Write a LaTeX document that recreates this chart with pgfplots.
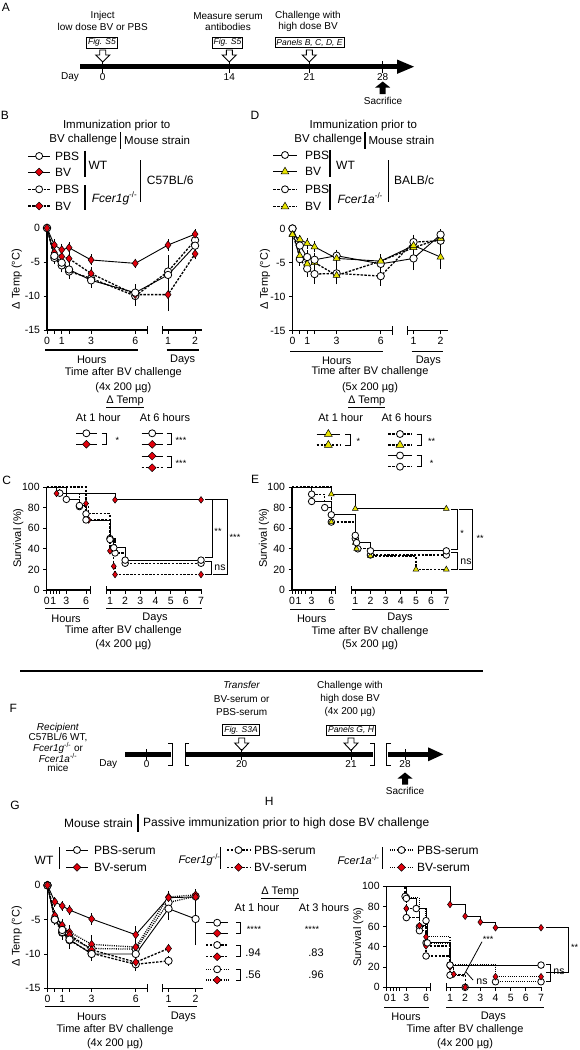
\documentclass[border=0pt]{standalone}
\usepackage{fontspec}
\setmainfont{Liberation Sans}
\usepackage{pgfplots}
\pgfplotsset{compat=1.18}
\usetikzlibrary{shapes.geometric}
\definecolor{bvred}{RGB}{226,0,12}
\definecolor{bvyel}{RGB}{232,228,0}
\newcommand{\fs}[1]{\fontsize{#1}{#1}\selectfont}

\pgfplotsset{
 base/.style={scale only axis, clip=false, separate axis lines,
  axis x line*=bottom, axis y line*=left,
  x axis line style={draw=none},
  y axis line style={line width=1.1pt},
  tick align=outside, major tick length=3.5pt,
  tick style={black, line width=0.9pt},
  ticklabel style={font=\fs{10.5}},
  /pgf/number format/assume math mode=true,
 },
 temp/.style={base, width=155pt, height=102pt,
  xmin=0, xmax=10.54, ymin=-15, ymax=0,
  x filter/.expression={x>12 ? 8.23+(x/24-1)*1.84 : x},
  xtick={0,0.5,1,1.5,3,6,8.23,10.07}, xticklabels={0,,1,,3,6,1,2},
  ytick={-15,-10,-5,0},
 },
 surv/.style={base, width=155pt, height=103pt,
  xmin=0, xmax=23.66, ymin=0, ymax=100,
  x filter/.expression={x>12 ? 9.66+(x/24-1)*2.316 : x},
  xtick={0,0.5,1,1.5,2,3,6,9.66,11.976,14.292,16.608,18.924,21.24,23.556},
  xticklabels={0,,1,,,3,6,1,2,3,4,5,6,7},
  ytick={0,20,40,60,80,100},
 },
 eb/.style={error bars/y dir=both, error bars/y explicit,
  error bars/error bar style={solid, line width=0.8pt, black},
  error bars/error mark options={mark size=2.8pt, line width=0.8pt, black, solid}},
 sw/.style={black, solid, line width=0.9pt, mark=*, mark size=3.7pt, mark options={solid, fill=white, draw=black, line width=0.8pt}},
 sr/.style={black, solid, line width=0.9pt, mark=diamond*, mark size=4pt, mark options={solid, fill=bvred, draw=black, line width=0.5pt}},
 sy/.style={black, solid, line width=0.9pt, mark=triangle*, mark size=4pt, mark options={solid, fill=bvyel, draw=black, line width=0.5pt}},
 dw/.style={sw, dash pattern=on 2.4pt off 1.4pt, line width=1.3pt},
 dr/.style={sr, dash pattern=on 2.4pt off 1.4pt, line width=1.3pt},
 dy/.style={sy, dash pattern=on 2.4pt off 1.4pt, line width=1.3pt},
 ow/.style={sw, dash pattern=on 1pt off 1.2pt, line width=1.3pt},
 or/.style={sr, dash pattern=on 1pt off 1.2pt, line width=1.3pt},
 km/.style={const plot, mark repeat=1, mark phase=2, mark size=3.3pt},
}

\tikzset{
 mw/.style={circle, draw=black, fill=white, line width=0.8pt, minimum size=7pt, inner sep=0pt},
 mr/.style={diamond, draw=black, fill=bvred, line width=0.5pt, minimum size=8pt, inner sep=0pt},
 my/.style={regular polygon, regular polygon sides=3, draw=black, fill=bvyel, line width=0.5pt, minimum size=9pt, inner sep=0pt},
 ls/.style={line width=0.9pt},
 ld/.style={line width=1.3pt, dash pattern=on 2.4pt off 1.4pt},
 lo/.style={line width=1.3pt, dash pattern=on 1pt off 1.2pt},
 bx/.style={draw, line width=0.8pt, inner xsep=1.5pt, inner ysep=1.5pt, font=\fs{8.5}\itshape},
}
\newcommand{\legsym}[5]{\draw[#4] (#1,#3) -- (#2,#3); \node[#5] at ({(#1+#2)/2},#3) {};}
\newcommand{\oarrow}[3]{\draw[line width=0.9pt, fill=white] (#1-3,#2) -- (#1+3,#2) -- (#1+3,#2+5) -- (#1+7,#2+5) -- (#1,#3) -- (#1-7,#2+5) -- (#1-3,#2+5) -- cycle;}
\newcommand{\sarrow}[3]{\fill (#1-3,#3) -- (#1+3,#3) -- (#1+3,#2+6) -- (#1+7.5,#2+6) -- (#1,#2) -- (#1-7.5,#2+6) -- (#1-3,#2+6) -- cycle;}
\newcommand{\brk}[4]{\draw[line width=0.9pt] (#1,#3) -- (#2,#3) -- (#2,#4) -- (#1,#4);}
\newcommand{\tempaxislines}{%
 \draw[line width=1.1pt] (axis cs:0,-15) -- (axis cs:6.8,-15);
 \draw[line width=1.1pt] (axis cs:7.82,-15) -- (axis cs:10.54,-15);
 \draw[line width=0.9pt] (axis cs:6.8,-15.6) -- (axis cs:6.8,-14.4);
 \draw[line width=0.9pt] (axis cs:7.82,-15.6) -- (axis cs:7.82,-14.4);}
\newcommand{\survaxislines}{%
 \draw[line width=1.1pt] (axis cs:0,0) -- (axis cs:6.61,0);
 \draw[line width=1.1pt] (axis cs:9.05,0) -- (axis cs:23.66,0);
 \draw[line width=0.9pt] (axis cs:6.61,-4) -- (axis cs:6.61,4);
 \draw[line width=0.9pt] (axis cs:9.05,-4) -- (axis cs:9.05,4);}

\begin{document}
\begin{tikzpicture}
\useasboundingbox (0,0) rectangle (580pt,-1050pt);

% ================= B =================
\begin{axis}[temp, at={(47pt,-330pt)}, anchor=south west]
\addplot[dw, eb] coordinates {(0,0) +- (0,0) (0.5,-4.4) +- (0,0.5) (1,-5.5) +- (0,0.6) (1.5,-6.4) +- (0,0.7) (3,-7.4) +- (0,0.8) (6,-10.0) +- (0,1.0) (24,-6.4) +- (0,1.0) (48,-1.8) +- (0,0.5)};
\addplot[dr, eb] coordinates {(0,0) +- (0,0) (0.5,-3.6) +- (0,0.4) (1,-4.2) +- (0,0.5) (1.5,-4.5) +- (0,0.5) (3,-6.7) +- (0,0.5) (6,-9.8) +- (0,0.8) (24,-9.8) +- (0,2.0) (48,-3.8) +- (0,0.4)};
\addplot[sw, eb] coordinates {(0,0) +- (0,0) (0.5,-4.1) +- (0,0.4) (1,-5.1) +- (0,0.6) (1.5,-6.1) +- (0,0.7) (3,-7.7) +- (0,0.7) (6,-9.5) +- (0,0.8) (24,-6.9) +- (0,2.5) (48,-2.6) +- (0,0.6)};
\addplot[sr, eb] coordinates {(0,0) +- (0,0) (0.5,-2.5) +- (0,0.4) (1,-3.2) +- (0,0.5) (1.5,-2.9) +- (0,0.4) (3,-4.7) +- (0,0.4) (6,-5.2) +- (0,0.3) (24,-2.5) +- (0,0.4) (48,-0.9) +- (0,0.3)};
\tempaxislines
\end{axis}

% ================= D =================
\begin{axis}[temp, at={(292.5pt,-330.5pt)}, anchor=south west]
\addplot[dw, eb] coordinates {(0,0) +- (0,0) (0.5,-4.5) +- (0,0.6) (1,-5.9) +- (0,0.8) (1.5,-6.7) +- (0,1.0) (3,-6.6) +- (0,0.9) (6,-7.0) +- (0,1.0) (24,-2.0) +- (0,0.7) (48,-1.8) +- (0,0.5)};
\addplot[dy, eb] coordinates {(0,-0.8) +- (0,0.2) (0.5,-4.0) +- (0,0.6) (1,-5.2) +- (0,0.7) (1.5,-5.0) +- (0,0.6) (3,-6.9) +- (0,0.9) (6,-4.8) +- (0,0.6) (24,-2.8) +- (0,0.6) (48,-1.5) +- (0,0.4)};
\addplot[sw, eb] coordinates {(0,0) +- (0,0) (0.5,-2.5) +- (0,0.5) (1,-4.2) +- (0,0.6) (1.5,-4.6) +- (0,0.6) (3,-4.0) +- (0,0.5) (6,-5.2) +- (0,0.6) (24,-4.4) +- (0,1.3) (48,-0.9) +- (0,0.4)};
\addplot[sy, eb] coordinates {(0,-0.9) +- (0,0.2) (0.5,-1.6) +- (0,0.3) (1,-2.2) +- (0,0.4) (1.5,-2.7) +- (0,0.4) (3,-4.4) +- (0,0.5) (6,-4.8) +- (0,0.5) (24,-2.5) +- (0,0.8) (48,-4.2) +- (0,1.3)};
\tempaxislines
\end{axis}

% ================= C =================
\begin{axis}[surv, at={(46.7pt,-590pt)}, anchor=south west]
\addplot[dw, km] coordinates {(0,100) (2,94) (5,81) (6,74) (24,50) (32,36) (48,26) (168,26)};
\addplot[dr, km] coordinates {(0,100) (6,84) (6.4,68) (24,38) (30,23) (32,15) (168,15)};
\addplot[sw, km] coordinates {(0,100) (3,88) (5,82) (6,68) (24,49) (30,41) (48,29) (168,29)};
\addplot[sr, km] coordinates {(0,100) (1.5,93.75) (32,87.5) (168,87.5)};
\survaxislines
\end{axis}

% ================= E =================
\begin{axis}[surv, at={(292pt,-590pt)}, anchor=south west]
\addplot[dw, km] coordinates {(0,100) (3,93) (5,80) (6,66) (24,50) (28,40) (48,34) (168,34)};
\addplot[dy, km] coordinates {(0,100) (6,66) (24,46) (26,40) (48,33) (120,20) (168,20)};
\addplot[sw, km] coordinates {(0,100) (3,86) (6,73) (24,53) (26,46) (48,38) (168,38)};
\addplot[sy, km] coordinates {(0,100) (6,93) (24,79) (168,79)};
\survaxislines
\end{axis}

% ================= G =================
\begin{axis}[temp, height=103pt, at={(47.5pt,-988.3pt)}, anchor=south west]
\addplot[ow, eb] coordinates {(0,0) +- (0,0) (0.5,-5.0) +- (0,0.4) (1,-6.9) +- (0,0.6) (1.5,-7.6) +- (0,0.7) (3,-9.2) +- (0,1.0) (6,-9.3) +- (0,0.8) (24,-2.5) +- (0,0.6) (48,-1.6) +- (0,0.4)};
\addplot[or, eb] coordinates {(0,0) +- (0,0) (0.5,-4.6) +- (0,0.4) (1,-5.9) +- (0,0.5) (1.5,-6.8) +- (0,0.6) (3,-8.6) +- (0,0.9) (6,-9.0) +- (0,0.8) (24,-1.7) +- (0,0.5) (48,-1.4) +- (0,0.4)};
\addplot[dw, eb] coordinates {(0,0) +- (0,0) (0.5,-4.9) +- (0,0.4) (1,-6.8) +- (0,0.6) (1.5,-8.0) +- (0,0.7) (3,-9.9) +- (0,0.5) (6,-11.5) +- (0,0.6) (24,-11.0) +- (0,0.3)};
\addplot[dr, eb] coordinates {(0,0) +- (0,0) (0.5,-4.4) +- (0,0.4) (1,-5.8) +- (0,0.5) (1.5,-7.2) +- (0,0.7) (3,-9.4) +- (0,0.6) (6,-11.2) +- (0,0.8) (24,-9.2) +- (0,0.3)};
\addplot[sw, eb] coordinates {(0,0) +- (0,0) (0.5,-5.0) +- (0,0.4) (1,-6.5) +- (0,0.6) (1.5,-7.9) +- (0,0.9) (3,-10.0) +- (0,0.6) (6,-10.0) +- (0,0.5) (24,-3.4) +- (0,1.2) (48,-4.9) +- (0,3.4)};
\addplot[sr, eb] coordinates {(0,0) +- (0,0) (0.5,-2.4) +- (0,0.3) (1,-3.0) +- (0,0.3) (1.5,-3.6) +- (0,0.3) (3,-4.9) +- (0,0.4) (6,-7.2) +- (0,0.8) (24,-1.8) +- (0,0.4) (48,-1.7) +- (0,0.4)};
\tempaxislines
\end{axis}

% ================= H =================
\begin{axis}[surv, height=101pt, at={(386.7pt,-987.3pt)}, anchor=south west]
\addplot[ow, km] coordinates {(0,100) (3,89) (5,60) (6,44) (24,22) (96,5.5) (168,5.5)};
\addplot[or, km] coordinates {(0,100) (3,78) (6,50) (24,22) (96,10.5) (168,10.5)};
\addplot[dw, km] coordinates {(0,100) (2.8,90) (3,69) (5,56) (6,31) (24,12) (48,0)};
\addplot[dr, km] coordinates {(0,100) (3,78) (5,61) (6,41) (24,20) (30,13) (48,0)};
\addplot[sw, km] coordinates {(0,100) (3,88) (4.5,78) (6,66) (6.2,44) (24,22) (168,22)};
\addplot[sr, km] coordinates {(0,100) (24,82) (48,70.4) (72,64.6) (96,59) (168,59)};
\survaxislines
\end{axis}

\begin{scope}[x=1pt,y=-1pt, every node/.style={font=\fs{10.5}, inner sep=0pt}]
% ---------- A ----------
\node[font=\fs{12}] at (6,7) {A};
\begin{scope}[every node/.style={font=\fs{10}, inner sep=0pt}]
\node at (102.7,16) {Inject};
\node at (102.7,26.7) {low dose BV or PBS};
\node at (228,16) {Measure serum};
\node at (228,26.7) {antibodies};
\node at (308,16) {Challenge with};
\node at (308,26.7) {high dose BV};
\node at (70,77) {Day};
\node at (102.7,77) {0};
\node at (229.3,77) {14};
\node at (309.3,77) {21};
\node at (382.7,77) {28};
\node at (383,101) {Sacrifice};
\end{scope}
\node[bx] at (102,42.7) {Fig. S5};
\node[bx] at (227.5,42.7) {Fig. S5};
\node[bx] at (309.5,42.7) {Panels B, C, D, E};
\oarrow{102.7}{50}{62}
\oarrow{229.3}{50}{62}
\oarrow{309.3}{50}{62}
\draw[line width=4.5pt] (80,66.7) -- (399,66.7);
\fill (397,59.5) -- (414,66.7) -- (397,73.9) -- cycle;
\foreach \t in {102.7,229.3,309.3,382.7} \draw[line width=0.8pt] (\t,61) -- (\t,72.5);
\sarrow{382.7}{81.5}{94}

% ---------- B legend ----------
\node[font=\fs{12}] at (5,115) {B};
\node[font=\fs{11.5}] at (116.7,126) {Immunization prior to};
\node[font=\fs{11.5}, anchor=east] at (117.3,140) {BV challenge};
\draw[line width=1.1pt] (120.7,132) -- (120.7,149);
\node[font=\fs{11.5}, anchor=west] at (124,140) {Mouse strain};
\legsym{28.3}{50}{156}{ls}{mw}
\legsym{28.3}{50}{172}{ls}{mr}
\legsym{28.3}{50}{189.3}{ld}{mw}
\legsym{28.3}{50}{206}{ld}{mr}
\begin{scope}[every node/.style={font=\fs{12}, inner sep=0pt, anchor=west}]
\node at (55,156) {PBS};
\node at (55,172) {BV};
\node at (55,189.3) {PBS};
\node at (55,206) {BV};
\node at (88.3,165) {WT};
\node at (91.7,198.3) {\textit{Fcer1g}\textsuperscript{-/-}};
\node at (146.7,180.7) {C57BL/6};
\end{scope}
\draw[line width=1.1pt] (85,150.7) -- (85,177.3);
\draw[line width=1.1pt] (85,185) -- (85,210);
\draw[line width=1.1pt] (140.7,160) -- (140.7,201.7);

% ---------- B labels ----------
\node[rotate=90, font=\fs{11}] at (16.7,279) {Δ Temp (°C)};
\draw[line width=1.2pt] (45,350) -- (138.3,350);
\draw[line width=1.2pt] (166.7,350) -- (199.3,350);
\begin{scope}[every node/.style={font=\fs{11}, inner sep=0pt}]
\node at (91.7,360) {Hours};
\node at (182.7,360) {Days};
\node at (123.3,372.7) {Time after BV challenge};
\node at (123.3,387.3) {(4x 200 µg)};
\node at (125,401.7) {\underline{Δ Temp}};
\node at (98.3,417.3) {At 1 hour};
\node at (165,417.3) {At 6 hours};
\end{scope}
\legsym{76}{96.7}{433.3}{ls}{mw}
\legsym{76}{96.7}{444.3}{ls}{mr}
\brk{101.7}{106.7}{433.3}{444.3}
\node[font=\fs{9}] at (117.3,440) {*};
\legsym{141.7}{162.7}{433.3}{ls}{mw}
\legsym{141.7}{162.7}{444.3}{ls}{mr}
\legsym{141.7}{162.7}{456}{ls}{mr}
\legsym{141.7}{162.7}{467.7}{ld}{mr}
\brk{166.7}{171.7}{433.3}{444.3}
\brk{166.7}{171.7}{456}{467.7}
\node[font=\fs{9}] at (181,440) {***};
\node[font=\fs{9}] at (181,463) {***};

% ---------- D legend ----------
\node[font=\fs{12}] at (255,115) {D};
\node[font=\fs{11.5}] at (363.3,126) {Immunization prior to};
\node[font=\fs{11.5}, anchor=east] at (362.3,140) {BV challenge};
\draw[line width=1.1pt] (365,132) -- (365,149);
\node[font=\fs{11.5}, anchor=west] at (368.3,140) {Mouse strain};
\legsym{273.3}{296.7}{155}{ls}{mw}
\legsym{273.3}{296.7}{171.7}{ls}{my}
\legsym{273.3}{296.7}{189.3}{ld}{mw}
\legsym{273.3}{296.7}{206.7}{ld}{my}
\begin{scope}[every node/.style={font=\fs{12}, inner sep=0pt, anchor=west}]
\node at (305,155) {PBS};
\node at (305,171.7) {BV};
\node at (305,189.3) {PBS};
\node at (305,206.7) {BV};
\node at (336,165) {WT};
\node at (337.3,198.3) {\textit{Fcer1a}\textsuperscript{-/-}};
\node at (394,180.7) {BALB/c};
\end{scope}
\draw[line width=1.1pt] (330,150) -- (330,176.7);
\draw[line width=1.1pt] (330,184) -- (330,210);
\draw[line width=1.1pt] (388.3,160) -- (388.3,201.7);

% ---------- D labels ----------
\node[rotate=90, font=\fs{11}] at (265,279) {Δ Temp (°C)};
\draw[line width=1.2pt] (290,351.7) -- (383.3,351.7);
\draw[line width=1.2pt] (411.7,351.7) -- (443.3,351.7);
\begin{scope}[every node/.style={font=\fs{11}, inner sep=0pt}]
\node at (336.7,361) {Hours};
\node at (428.3,361) {Days};
\node at (370,371.7) {Time after BV challenge};
\node at (370,387.3) {(5x 200 µg)};
\node at (366.7,401.7) {\underline{Δ Temp}};
\node at (340.7,417.3) {At 1 hour};
\node at (406.7,417.3) {At 6 hours};
\end{scope}
\legsym{316.7}{340}{434}{ls}{my}
\legsym{316.7}{340}{445}{ld}{my}
\brk{345}{350}{434}{445}
\node[font=\fs{9}] at (358.3,441) {*};
\legsym{388.3}{411.7}{434}{ld}{mw}
\legsym{388.3}{411.7}{445}{ld}{my}
\legsym{388.3}{411.7}{455.5}{ls}{mw}
\legsym{388.3}{411.7}{466.7}{ld}{mw}
\brk{416.7}{421.7}{434}{445}
\brk{416.7}{421.7}{455.5}{466.7}
\node[font=\fs{9}] at (431.7,441) {**};
\node[font=\fs{9}] at (431.7,463) {*};

% ---------- C labels ----------
\node[font=\fs{12}] at (6.7,480) {C};
\node[rotate=90, font=\fs{11}] at (18.3,538) {Survival (\%)};
\draw[line width=1.2pt] (45,608.3) -- (89.3,608.3);
\draw[line width=1.2pt] (106,608.3) -- (201.7,608.3);
\begin{scope}[every node/.style={font=\fs{11}, inner sep=0pt}]
\node at (66,618.3) {Hours};
\node at (155,618.3) {Days};
\node at (123.3,630.7) {Time after BV challenge};
\node at (123.3,645) {(4x 200 µg)};
\end{scope}
\brk{205}{212}{499.6}{557}
\node[font=\fs{9}] at (218,531) {**};
\brk{205}{211}{561}{574.5}
\node[font=\fs{10.5}] at (220,568) {ns};
\brk{213}{227}{499.6}{574.5}
\node[font=\fs{9}] at (235,537) {***};

% ---------- E labels ----------
\node[font=\fs{12}] at (255,479) {E};
\node[rotate=90, font=\fs{11}] at (264,538) {Survival (\%)};
\draw[line width=1.2pt] (290,609.3) -- (335,609.3);
\draw[line width=1.2pt] (351.7,609.3) -- (449.3,609.3);
\begin{scope}[every node/.style={font=\fs{11}, inner sep=0pt}]
\node at (311.7,618.3) {Hours};
\node at (400,618.3) {Days};
\node at (370,631.7) {Time after BV challenge};
\node at (370,645) {(5x 200 µg)};
\end{scope}
\brk{451}{457.3}{509}{549}
\node[font=\fs{9}] at (462,533) {*};
\brk{451}{457.3}{552}{569.5}
\node[font=\fs{10.5}] at (466,562) {ns};
\brk{459}{472.7}{509}{569.5}
\node[font=\fs{9}] at (480,538) {**};

% ---------- separator ----------
\draw[line width=1.2pt] (20,671) -- (483,671);

% ---------- F ----------
\node[font=\fs{12}] at (13.3,708.3) {F};
\begin{scope}[every node/.style={font=\fs{10}, inner sep=0pt}]
\node at (58,727.7) {\textit{Recipient}};
\node at (58,737.7) {C57BL/6 WT,};
\node at (58,747.7) {\textit{Fcer1g}\textsuperscript{-/-} or};
\node at (58,758.3) {\textit{Fcer1a}\textsuperscript{-/-}};
\node at (58,767.7) {mice};
\node at (241.7,685) {\textit{Transfer}};
\node at (241.7,699) {BV-serum or};
\node at (241.7,711.7) {PBS-serum};
\node at (350,685.7) {Challenge with};
\node at (350,699) {high dose BV};
\node at (350,711.7) {(4x 200 µg)};
\node at (108.3,763.7) {Day};
\node at (146.7,763.7) {0};
\node at (241.7,763.7) {20};
\node at (351,763.7) {21};
\node at (405,763.7) {28};
\node at (405,791) {Sacrifice};
\end{scope}
\node[bx] at (241,730.3) {Fig. S3A};
\node[bx] at (351,730.3) {Panels G, H};
\oarrow{241.7}{738}{750.5}
\oarrow{351}{738}{750.5}
\draw[line width=4.5pt] (125,754.3) -- (171,754.3);
\draw[line width=4.5pt] (186,754.3) -- (373,754.3);
\draw[line width=4.5pt] (388,754.3) -- (430,754.3);
\fill (428,747.3) -- (443.3,754.3) -- (428,761.3) -- cycle;
\draw[line width=1pt] (168,743.5) -- (172.5,743.5) -- (172.5,765) -- (168,765);
\draw[line width=1pt] (189,743.5) -- (185,743.5) -- (185,765) -- (189,765);
\draw[line width=1pt] (370,743.5) -- (374.5,743.5) -- (374.5,765) -- (370,765);
\draw[line width=1pt] (391,743.5) -- (386.7,743.5) -- (386.7,765) -- (391,765);
\foreach \t in {146.7,241.7,351,405} \draw[line width=0.8pt] (\t,749) -- (\t,759.5);
\sarrow{405}{772.5}{784.5}

% ---------- G header & legend ----------
\node[font=\fs{12}] at (15,805) {G};
\node[font=\fs{12}] at (269.3,801.7) {H};
\node[font=\fs{12}, anchor=east] at (133,823.3) {Mouse strain};
\draw[line width=1.1pt] (138,814) -- (138,832);
\node[font=\fs{12}, anchor=west] at (143,823.3) {Passive immunization prior to high dose BV challenge};
\node[font=\fs{12}] at (44,860) {WT};
\draw[line width=1.1pt] (59.3,847) -- (59.3,869);
\legsym{66}{88}{850}{ls}{mw}
\legsym{66}{88}{867.3}{ls}{mr}
\node[font=\fs{12}, anchor=west] at (94,850) {PBS-serum};
\node[font=\fs{12}, anchor=west] at (94,867.3) {BV-serum};
\node[font=\fs{11}] at (199.5,860) {\textit{Fcer1g}\textsuperscript{-/-}};
\draw[line width=1.1pt] (220.7,847) -- (220.7,869);
\legsym{227}{250}{850}{ld}{mw}
\legsym{227}{250}{867.3}{ld}{mr}
\node[font=\fs{12}, anchor=west] at (254,850) {PBS-serum};
\node[font=\fs{12}, anchor=west] at (254,867.3) {BV-serum};
\node[font=\fs{11}] at (358.5,860) {\textit{Fcer1a}\textsuperscript{-/-}};
\draw[line width=1.1pt] (382.7,847) -- (382.7,869);
\legsym{390}{413}{850}{lo}{mw}
\legsym{390}{413}{867.3}{lo}{mr}
\node[font=\fs{12}, anchor=west] at (417,850) {PBS-serum};
\node[font=\fs{12}, anchor=west] at (417,867.3) {BV-serum};

% ---------- G labels & stats ----------
\node[rotate=90, font=\fs{11}] at (16.7,936) {Δ Temp (°C)};
\draw[line width=1.2pt] (45,1006.7) -- (140,1006.7);
\draw[line width=1.2pt] (168.3,1006.7) -- (196.7,1006.7);
\begin{scope}[every node/.style={font=\fs{11}, inner sep=0pt}]
\node at (91.7,1016.7) {Hours};
\node at (183.3,1016.7) {Days};
\node at (115,1029.3) {Time after BV challenge};
\node at (115,1043.3) {(4x 200 µg)};
\node at (280,893) {\underline{Δ Temp}};
\node at (257,907.7) {At 1 hour};
\node at (324,907.7) {At 3 hours};
\node at (253,952.7) {.94};
\node at (253,974.5) {.56};
\node at (316,952.7) {.83};
\node at (316,974.5) {.96};
\end{scope}
\node[font=\fs{9}] at (254,929) {****};
\node[font=\fs{9}] at (312,929) {****};
\legsym{206}{228.3}{922.7}{ls}{mw}
\legsym{206}{228.3}{933.3}{ls}{mr}
\legsym{206}{228.3}{945}{ld}{mw}
\legsym{206}{228.3}{956.7}{ld}{mr}
\legsym{206}{228.3}{969.3}{lo}{mw}
\legsym{206}{228.3}{980}{lo}{mr}
\brk{236}{240.7}{922.7}{933.3}
\brk{236}{240.7}{945}{956.7}
\brk{236}{240.7}{969.3}{980}

% ---------- H labels ----------
\node[rotate=90, font=\fs{11}] at (358.3,937) {Survival (\%)};
\draw[line width=1.2pt] (384,1007.3) -- (429.3,1007.3);
\draw[line width=1.2pt] (446,1007.3) -- (544,1007.3);
\begin{scope}[every node/.style={font=\fs{11}, inner sep=0pt}]
\node at (406,1016.7) {Hours};
\node at (493.3,1016.7) {Days};
\node at (465,1029.3) {Time after BV challenge};
\node at (465,1043.3) {(4x 200 µg)};
\end{scope}
\brk{546}{568.3}{927.5}{972.7}
\node[font=\fs{9}] at (574.5,947) {**};
\brk{546}{550}{964.3}{981.7}
\node[font=\fs{10.5}] at (559,972) {ns};
\node[font=\fs{9}] at (488,939) {***};
\draw[line width=0.8pt] (482,941.7) -- (463,976.7);
\node[font=\fs{10.5}] at (482,982) {ns};
\draw[line width=0.8pt] (473,980) -- (466,972);
\end{scope}
\end{tikzpicture}
\end{document}
